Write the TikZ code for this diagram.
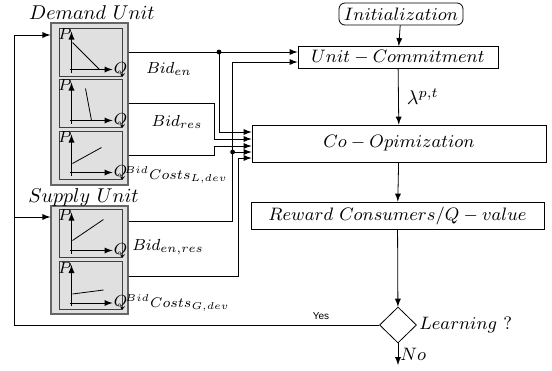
\documentclass[tikz,border=0pt]{standalone}
\usepackage{fontspec}
\newfontfamily\helv{Liberation Sans}
\usetikzlibrary{shapes.geometric,calc,arrows}

\begin{document}
\begin{tikzpicture}[
        x=0.5pt, y=-0.5pt, >=latex,
        every node/.style={inner sep=1pt},
        block/.style={draw, rectangle, inner sep=2pt, font=\small},
        unitbox/.style={draw=black!60, fill=black!12, line width=0.6pt, minimum width=38.5pt},
        panel/.style={draw=black!75, fill=black!12, line width=0.5pt, minimum width=31.5pt, minimum height=24pt},
        bid/.style={font=\footnotesize}
    ]
        \useasboundingbox (0,0) rectangle (552,370);

        % Khối bên phải
        \node [block, rounded corners=3pt, minimum width=62pt, minimum height=11pt] (init) at (401,14) {$Initialization$};
        \node [block, minimum width=100pt, minimum height=10.5pt] (uc) at (398,57.5) {$Unit-Commitment$};
        \node [block, minimum width=147pt, minimum height=18.5pt] (co) at (399,143.5) {$Co-Opimization$};
        \node [block, minimum width=146.5pt, minimum height=13.5pt] (rw) at (397.5,215.5) {$Reward\ Consumers/Q-value$};
        \node [draw, diamond, aspect=1, minimum width=18.5pt, minimum height=18pt, inner sep=0pt] (dec) at (398,325) {};
        \node [anchor=west, font=\small] (learn) at (dec.east) {$Learning\ ?$};
        \coordinate (out) at (398,365);

        \draw[->] (init) -- (uc);
        \draw[->] (uc) -- node[right=3pt] (lam) {$\lambda^{p,t}$} (co);
        \draw[->] (co) -- (rw);
        \draw[->] (rw) -- (dec);
        \draw[->] (dec) -- node[right, font=\small] (no) {$No$} (out);

        % Các đơn vị
        \node [unitbox, minimum height=81pt] (dem) at (89.5,104) {};
        \node (demlab) at (92,13) {$Demand\ Unit$};
        \node [panel] (d1) at (90.5,52) {};
        \node [panel] (d2) at (90.5,103) {};
        \node [panel] (d3) at (90.5,155) {};

        \node [unitbox, minimum height=54pt] (sup) at (89.5,260) {};
        \node (suplab) at (83.5,197) {$Supply\ Unit$};
        \node [panel] (s1) at (90.5,233) {};
        \node [panel] (s2) at (90.5,285.5) {};

        % Trục P-Q trong mỗi ô
        \foreach \p in {d1,d2,d3,s1,s2} {
            \draw[->] ($(\p.south west)+(13,-4)$) -- ($(\p.north west)+(13,4)$);
            \draw[->] ($(\p.south west)+(11,-7)$) -- ($(\p.south west)+(54,-7)$)
                node[right, inner sep=0.5pt, font=\footnotesize] (Q-\p) {$Q$};
            \node[font=\footnotesize] (P-\p) at ($(\p.north west)+(6.5,7)$) {$P$};
        }
        \foreach \p/\ax/\ay/\bx/\by in {d1/14/-34/41/-7, d2/27/-39/33/-7, d3/14/-16/43/-32, s1/14/-17/45/-38, s2/14/-16/45/-20}
            \draw ($(\p.south west)+(\ax,\ay)$) -- ($(\p.south west)+(\bx,\by)$);

        % Nhãn giá thầu
        \node [bid] (bden) at (169,69) {$Bid_{en}$};
        \node [bid] (bdres) at (177,122) {$Bid_{res}$};
        \node [bid, font=\scriptsize] (bdcl) at (176,175) {$^{Bid}Costs_{L,dev}$};
        \node [bid] (bdenres) at (168,247) {$Bid_{en,res}$};
        \node [bid, font=\scriptsize] (bdcg) at (177.5,303) {$^{Bid}Costs_{G,dev}$};

        % Các đường nối vào Co-Opimization
        \foreach \i/\dy in {1/-11.5,2/-4.5,3/2.5,4/8.5,5/14.5}
            \coordinate (in\i) at ($(co.west)+(0,\dy)$);
        \coordinate (u2) at ($(uc.west)+(0,4.5)$);
        \coordinate (j1) at (219,52);
        \coordinate (j2) at ($(in4)+(-19,0)$);
        \coordinate (s1o) at ($(s1.east -| sup.east)+(0,-12)$);
        \coordinate (s2o) at ($(s2.east -| sup.east)+(0,-9.5)$);

        \draw[->] (d1 -| dem.east) -- (d1 -| uc.west);
        \draw[->] (j1) |- (in1);
        \draw[->] (d2 -| dem.east) -- ++(86,0) |- (in2);
        \draw[->] (d3 -| dem.east) -- ++(86,0) |- (in3);
        \draw[->] (s1o) -| (j2) |- (u2);
        \draw[->] (j2) -- (in4);
        \draw[->] (s2o) -- ++(110,0) |- (in5);
        \fill (j1) circle[radius=1.2pt];
        \fill (j2) circle[radius=1.2pt];

        % Vòng lặp học
        \coordinate (fb1) at (14,35);
        \coordinate (fb2) at (14,217);
        \draw[->] (dec.west) -| (fb1) -- (fb1 -| dem.west);
        \draw[->] (fb2) -- (fb2 -| sup.west);
        \node [font=\helv\tiny] (yes) at (321,316) {Yes};
    \end{tikzpicture}
\end{document}
